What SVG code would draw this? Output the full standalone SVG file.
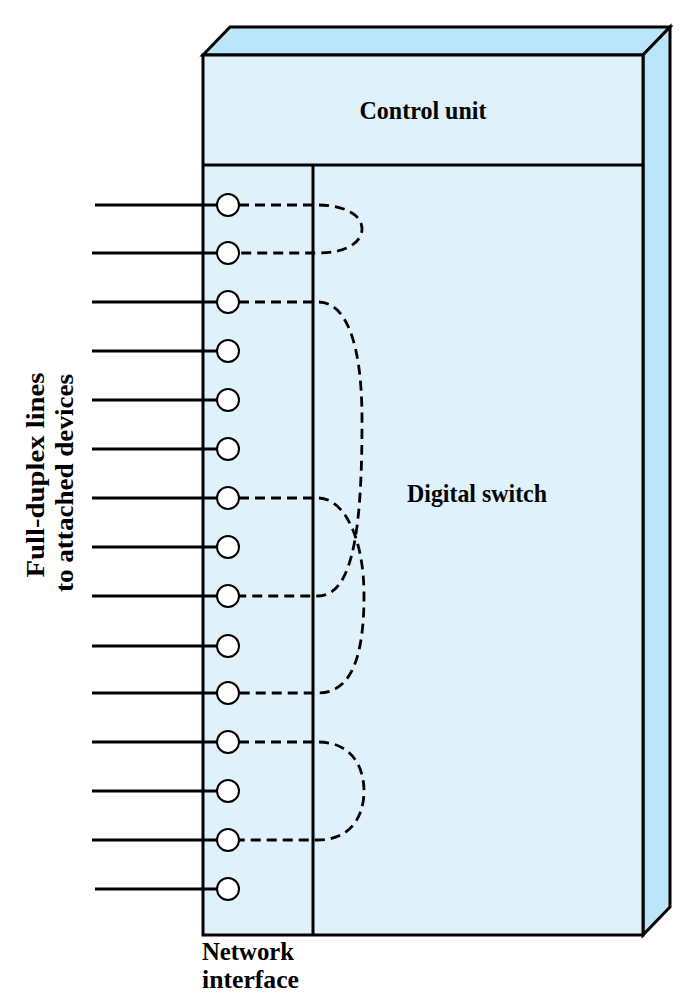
<svg xmlns="http://www.w3.org/2000/svg" width="698" height="1007" viewBox="0 0 698 1007">
<style>
.box{fill:#dff2fc;stroke:#000;stroke-width:3;stroke-linejoin:miter}
.side{fill:#bbe5f9;stroke:#000;stroke-width:3}
.ln{stroke:#000;stroke-width:3;fill:none}
.port{fill:#fff;stroke:#000;stroke-width:2}
.dash{stroke:#000;stroke-width:2.8;fill:none;stroke-dasharray:10,6}
.t{font-family:"Liberation Serif","Times New Roman",serif;font-weight:bold;font-size:25px;fill:#000}
</style>
<g id="switch-box">
<polygon class="side" points="203,55 230,27 670,27 643,55"/>
<polygon class="side" points="643,55 670,27 670,907 643,935"/>
<rect class="box" x="203" y="55" width="440" height="880"/>
<line class="ln" x1="203" y1="165" x2="643" y2="165"/>
<line class="ln" x1="313" y1="165" x2="313" y2="935"/>
</g>
<g id="control-unit"><text class="t" x="423" y="119" text-anchor="middle" textLength="127" lengthAdjust="spacingAndGlyphs">Control unit</text></g>
<g id="digital-switch"><text class="t" x="477" y="502" text-anchor="middle" textLength="140" lengthAdjust="spacingAndGlyphs">Digital switch</text></g>
<g id="network-interface"><text class="t" x="202" y="960" textLength="92" lengthAdjust="spacingAndGlyphs">Network</text><text class="t" x="202" y="988" textLength="97" lengthAdjust="spacingAndGlyphs">interface</text></g>
<g id="lines-label"><text class="t" transform="translate(44,475) rotate(-90)" text-anchor="middle" textLength="205" lengthAdjust="spacingAndGlyphs">Full-duplex lines</text><text class="t" transform="translate(73,483) rotate(-90)" text-anchor="middle" textLength="218" lengthAdjust="spacingAndGlyphs">to attached devices</text></g>
<g id="connectors">
<line class="ln" x1="95" y1="205" x2="217" y2="205"/>
<line class="ln" x1="92" y1="253" x2="217" y2="253"/>
<line class="ln" x1="92" y1="302" x2="217" y2="302"/>
<line class="ln" x1="92" y1="351" x2="217" y2="351"/>
<line class="ln" x1="92" y1="400" x2="217" y2="400"/>
<line class="ln" x1="92" y1="449" x2="217" y2="449"/>
<line class="ln" x1="92" y1="498" x2="217" y2="498"/>
<line class="ln" x1="92" y1="547" x2="217" y2="547"/>
<line class="ln" x1="92" y1="596" x2="217" y2="596"/>
<line class="ln" x1="92" y1="646" x2="217" y2="646"/>
<line class="ln" x1="92" y1="693" x2="217" y2="693"/>
<line class="ln" x1="92" y1="742" x2="217" y2="742"/>
<line class="ln" x1="92" y1="791" x2="217" y2="791"/>
<line class="ln" x1="92" y1="840" x2="217" y2="840"/>
<line class="ln" x1="95" y1="889" x2="217" y2="889"/>
<path class="dash" d="M239,205 H318 C345,205 362,215 362,229 C362,243 345,253 318,253 H239"/>
<path class="dash" d="M239,302 H318 C345,302 362,340 362,420 C362,520 355,596 318,596 H239"/>
<path class="dash" d="M239,498 H318 C345,498 364,540 364,595 C364,660 350,693 318,693 H239"/>
<path class="dash" d="M239,742 H318 C350,742 364,765 364,791 C364,817 350,840 318,840 H239"/>
</g>
<g id="ports">
<circle class="port" cx="228" cy="205" r="11"/>
<circle class="port" cx="228" cy="253" r="11"/>
<circle class="port" cx="228" cy="302" r="11"/>
<circle class="port" cx="228" cy="351" r="11"/>
<circle class="port" cx="228" cy="400" r="11"/>
<circle class="port" cx="228" cy="449" r="11"/>
<circle class="port" cx="228" cy="498" r="11"/>
<circle class="port" cx="228" cy="547" r="11"/>
<circle class="port" cx="228" cy="596" r="11"/>
<circle class="port" cx="228" cy="646" r="11"/>
<circle class="port" cx="228" cy="693" r="11"/>
<circle class="port" cx="228" cy="742" r="11"/>
<circle class="port" cx="228" cy="791" r="11"/>
<circle class="port" cx="228" cy="840" r="11"/>
<circle class="port" cx="228" cy="889" r="11"/>
</g>
</svg>
